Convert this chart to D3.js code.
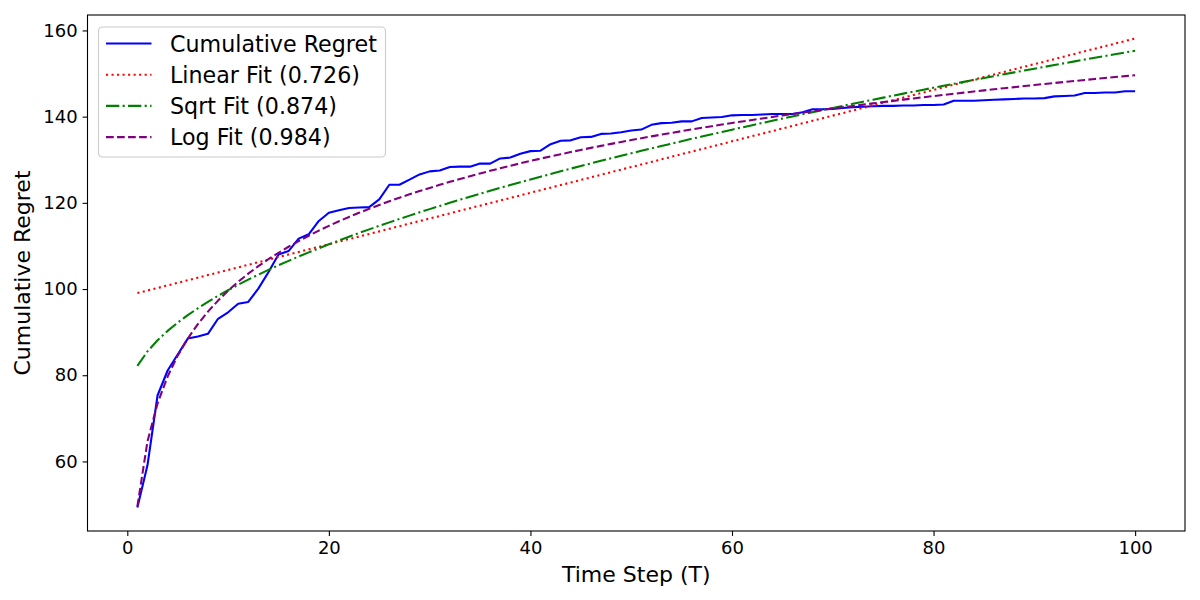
<!DOCTYPE html>
<html>
<head>
<meta charset="utf-8">
<script src="https://cdn.jsdelivr.net/npm/d3@7/dist/d3.min.js"></script>
<style>
  body { margin: 0; background: #fff; }
  svg { font-family: "DejaVu Sans", sans-serif; }
</style>
</head>
<body>
<div id="chart"></div>
<script>
// cumulative regret, T = 1..100
var timeSteps = d3.range(1, 101)
var regret = [
  49.3, 59.1, 75.3, 81.1, 84.8, 88.5, 89.0, 89.6, 93.1, 94.6,
  96.6, 97.0, 100.1, 103.9, 108.0, 108.8, 111.7, 112.7, 115.8, 117.7,
  118.3, 118.8, 118.9, 119.0, 120.8, 124.2, 124.2, 125.4, 126.6, 127.3,
  127.5, 128.3, 128.4, 128.4, 129.1, 129.1, 130.3, 130.5, 131.4, 132.0,
  132.1, 133.6, 134.4, 134.5, 135.2, 135.3, 136.0, 136.1, 136.4, 136.8,
  137.0, 138.1, 138.5, 138.6, 138.9, 138.9, 139.7, 139.8, 139.9, 140.3,
  140.4, 140.4, 140.5, 140.6, 140.6, 140.6, 141.0, 141.7, 141.7, 141.8,
  142.0, 142.2, 142.3, 142.4, 142.5, 142.5, 142.6, 142.6, 142.7, 142.7,
  142.8, 143.7, 143.7, 143.7, 143.8, 143.9, 144.0, 144.1, 144.2, 144.2,
  144.3, 144.7, 144.8, 144.9, 145.5, 145.5, 145.6, 145.6, 145.9, 145.9
]
var xTicks = [0, 20, 40, 60, 80, 100]
var yTicks = [60, 80, 100, 120, 140, 160]
var seriesNames = ["Cumulative Regret", "Linear Fit (0.726)", "Sqrt Fit (0.874)", "Log Fit (0.984)"]
var seriesColors = ["blue", "red", "green", "purple"]
var seriesDash = [null, "2.08,3.44", "13.3,3.33,2.08,3.33", "7.7,3.33"]

var svgw = 1200
var svgh = 600
var margin = {top: 15, right: 15, bottom: 69, left: 87.5}
var w = svgw - margin.left - margin.right
var h = svgh - margin.top - margin.bottom

// least squares fit of regret on f(T)
function fitLine(f){
  var xs = timeSteps.map(f)
  var mx = d3.mean(xs), my = d3.mean(regret)
  var sxy = 0, sxx = 0
  for (var i = 0; i < xs.length; i++){
    sxy += (xs[i] - mx) * (regret[i] - my)
    sxx += (xs[i] - mx) * (xs[i] - mx)
  }
  var b = sxy / sxx
  var a = my - b * mx
  return xs.map(function(v){ return a + b * v })
}
var linearFit = fitLine(function(t){ return t })
var sqrtFit = fitLine(function(t){ return Math.sqrt(t) })
var logFit = fitLine(function(t){ return Math.log(t) })
var allSeries = [regret, linearFit, sqrtFit, logFit]

var svg = d3.select('#chart').append('svg')
  .attr('width', svgw)
  .attr('height', svgh)
var g = svg.append('g').attr('transform', 'translate(' + margin.left + ',' + margin.top + ')')

var xmin = 1, xmax = 100
var xpad = (xmax - xmin) * 0.05
var x = d3.scaleLinear().domain([xmin - xpad, xmax + xpad]).range([0, w])
var ymin = d3.min(allSeries, function(s){ return d3.min(s) })
var ymax = d3.max(allSeries, function(s){ return d3.max(s) })
var ypad = (ymax - ymin) * 0.05
var y = d3.scaleLinear().domain([ymin - ypad, ymax + ypad]).range([h, 0])

var line = d3.line()
  .x(function(d, i){ return x(timeSteps[i]) })
  .y(function(d){ return y(d) })

// drawn in order: regret then the fits
allSeries.forEach(function(s, k){
  g.append('path')
    .datum(s)
    .attr('d', line)
    .attr('fill', 'none')
    .attr('stroke', seriesColors[k])
    .attr('stroke-width', 2.08)
    .attr('stroke-dasharray', seriesDash[k])
    .attr('stroke-linejoin', 'round')
})

// axes
var xAxis = g.append('g')
  .attr('transform', 'translate(0,' + h + ')')
  .call(d3.axisBottom(x).tickValues(xTicks).tickSize(4.9).tickPadding(4.9))
var yAxis = g.append('g')
  .call(d3.axisLeft(y).tickValues(yTicks).tickSize(4.9).tickPadding(4.9))
;[xAxis, yAxis].forEach(function(a){
  a.selectAll('text').attr('font-size', 18).attr('fill', '#000').attr('font-family', 'DejaVu Sans')
  a.selectAll('line').attr('stroke', '#000').attr('stroke-width', 1.1)
  a.select('.domain').remove()
})
g.append('rect')
  .attr('width', w)
  .attr('height', h)
  .attr('fill', 'none')
  .attr('stroke', '#000')
  .attr('stroke-width', 1.1)

svg.append('text')
  .attr('x', margin.left + w / 2)
  .attr('y', 582)
  .attr('text-anchor', 'middle')
  .attr('font-size', 22)
  .text('Time Step (T)')
svg.append('text')
  .attr('transform', 'translate(30,' + (margin.top + h / 2) + ') rotate(-90)')
  .attr('text-anchor', 'middle')
  .attr('font-size', 22)
  .text('Cumulative Regret')

// legend
var legend = g.append('g').attr('transform', 'translate(11,12)')
legend.append('rect')
  .attr('width', 287)
  .attr('height', 130)
  .attr('rx', 4)
  .attr('fill', '#fff')
  .attr('fill-opacity', 0.8)
  .attr('stroke', '#ccc')
  .attr('stroke-width', 1.1)
var rows = legend.selectAll('.row')
  .data(seriesNames)
  .enter()
  .append('g')
  .attr('class', 'row')
  .attr('transform', function(d, i){ return 'translate(0,' + (16.5 + i * 31.2) + ')' })
rows.append('line')
  .attr('x1', 7.5)
  .attr('x2', 53)
  .attr('stroke', function(d, i){ return seriesColors[i] })
  .attr('stroke-width', 2.08)
  .attr('stroke-dasharray', function(d, i){ return seriesDash[i] })
rows.append('text')
  .attr('x', 71.5)
  .attr('dy', '0.36em')
  .attr('font-size', 22.2)
  .text(function(d){ return d })
</script>
</body>
</html>
